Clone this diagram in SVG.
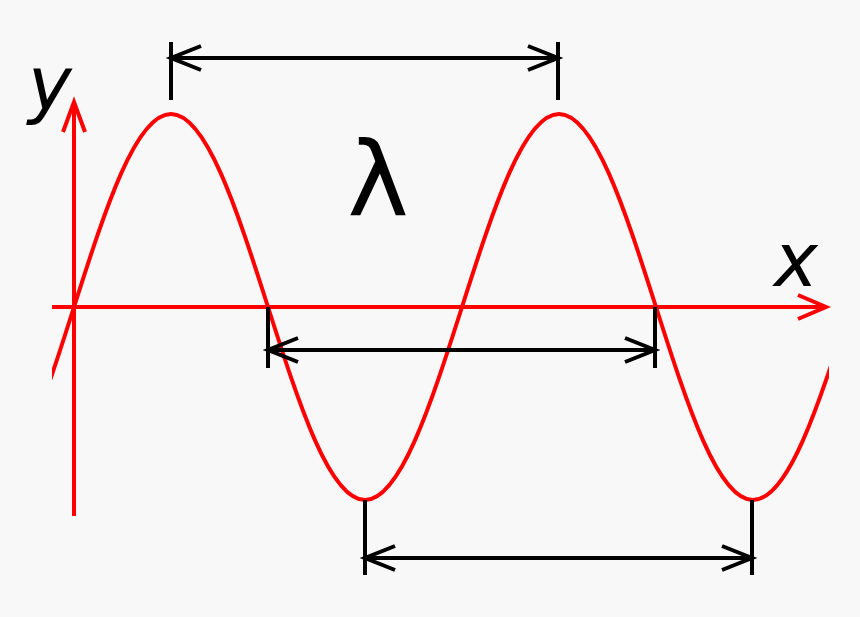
<svg xmlns="http://www.w3.org/2000/svg" width="860" height="617" viewBox="0 0 860 617">
<style>
.r{stroke:#f00;stroke-width:4;fill:none}
.k{stroke:#000;stroke-width:4;fill:none}
.t{font-family:"DejaVu Sans",sans-serif;fill:#000}
</style>
<defs><clipPath id="c"><rect x="52" y="0" width="777" height="617"/></clipPath></defs>
<rect width="860" height="617" fill="#f8f8f8"/>
<g id="axes">
<path class="r" d="M52,307H826M798,295L826,307L798,319"/>
<path class="r" d="M74,516V102M63,132L74,102L85,132"/>
</g>
<g id="wave">
<path class="r" stroke-width="5" clip-path="url(#c)" d="M-22.9,500 C12.3,500 42.5,405.9 74,307 C105.6,208.1 135.8,114 171,114 C206.2,114 236.4,208.1 268,307 C299.6,405.9 329.8,500 365,500 C400.2,500 430.4,405.9 462,307 C493.6,208.1 523.8,114 559,114 C594.2,114 624.4,208.1 656,307 C687.6,405.9 717.8,500 753,500 C788.2,500 818.4,405.9 850,307"/>
</g>
<g id="connectors">
<path class="k" d="M171,42V100M558,42V100M171,58H558M201,46L171,58L201,70M528,46L558,58L528,70"/>
<path class="k" d="M268,307V368M655,307V368M268,350H655M298,338L268,350L298,362M625,338L655,350L625,362"/>
<path class="k" d="M365,500V575M752,500V575M365,558H752M395,546L365,558L395,570M722,546L752,558L722,570"/>
</g>
<g id="labels">
<text class="t" x="28" y="110" font-size="74" font-style="italic">y</text>
<text class="t" x="774" y="286" font-size="74" font-style="italic">x</text>
<text class="t" x="378" y="216" font-size="104" text-anchor="middle">λ</text>
</g>
</svg>
